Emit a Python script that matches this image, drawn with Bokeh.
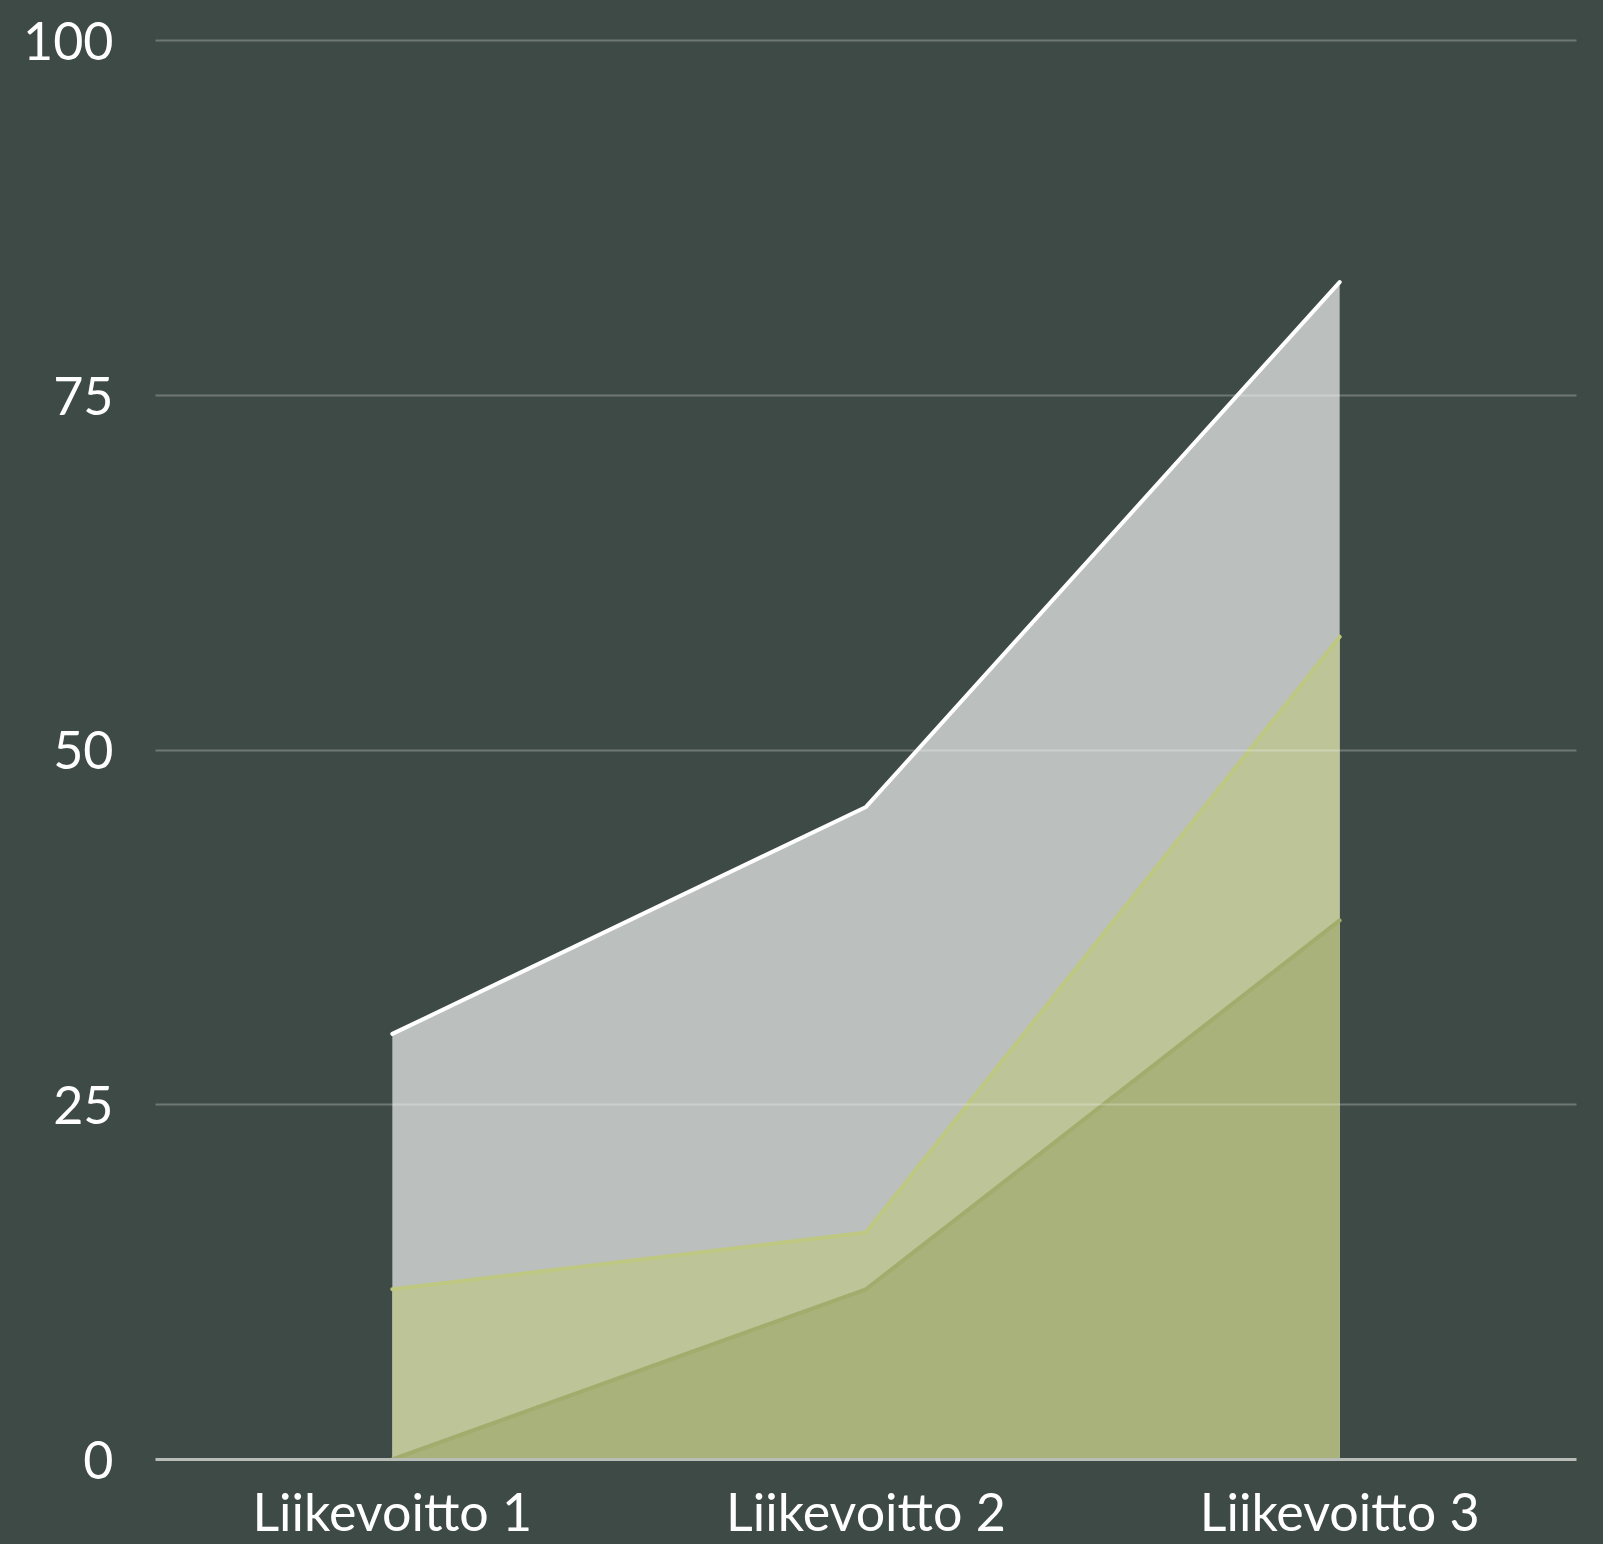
from bokeh.plotting import figure
from bokeh.models import Range1d, FactorRange, FixedTicker
from bokeh.embed import file_html
from bokeh.resources import INLINE

categories = ["Liikevoitto 1", "Liikevoitto 2", "Liikevoitto 3"]
series_low = [0, 12, 38]
series_mid = [12, 16, 58]
series_top = [30, 46, 83]
y_ticks = [0, 25, 50, 75, 100]
zeros = [0, 0, 0]

BG = "#3E4A46"
FONT = "Lato"

p = figure(x_range=FactorRange(factors=categories, range_padding=0),
           y_range=Range1d(0, 100.1),
           width=1603, height=1544,
           output_backend="svg", toolbar_location=None,
           background_fill_color=None, border_fill_color=None,
           min_border_left=155, min_border_right=27,
           min_border_top=39, min_border_bottom=84)
p.outline_line_color = None
p.styles = {"background-color": BG}

p.varea(x=categories, y1=zeros, y2=series_top, fill_color="#BBBFBD")
p.line(categories, series_top, line_color="#FFFFFF", line_width=4, line_cap="round")
p.varea(x=categories, y1=zeros, y2=series_mid, fill_color="#BCC498")
p.line(categories, series_mid, line_color="#BFC882", line_width=4, line_cap="round")
p.varea(x=categories, y1=zeros, y2=series_low, fill_color="#A9B27A")
p.line(categories, series_low, line_color="#A2AC6C", line_width=4, line_cap="round")

p.xgrid.visible = False
p.ygrid.ticker = FixedTicker(ticks=y_ticks)
p.ygrid.grid_line_color = "#FFFFFF"
p.ygrid.grid_line_alpha = 0.25
p.ygrid.grid_line_width = 2
p.ygrid.level = "overlay"

p.yaxis.ticker = FixedTicker(ticks=y_ticks)
p.yaxis.axis_line_color = None
p.yaxis.major_tick_line_color = None
p.yaxis.minor_tick_line_color = None
p.yaxis.major_tick_out = 0
p.yaxis.major_tick_in = 0
p.yaxis.major_label_standoff = 42
p.yaxis.major_label_text_font = FONT
p.yaxis.major_label_text_font_size = "52px"
p.yaxis.major_label_text_color = "#FFFFFF"

p.xaxis.axis_line_color = "#B8BDB8"
p.xaxis.axis_line_width = 3
p.xaxis.major_tick_line_color = None
p.xaxis.minor_tick_line_color = None
p.xaxis.major_tick_out = 0
p.xaxis.major_tick_in = 0
p.xaxis.major_label_standoff = 20
p.xaxis.major_label_text_line_height = 1.0
p.xaxis.major_label_text_font = FONT
p.xaxis.major_label_text_font_size = "52px"
p.xaxis.major_label_text_color = "#FFFFFF"

open("out.html", "w").write(file_html(p, INLINE))
